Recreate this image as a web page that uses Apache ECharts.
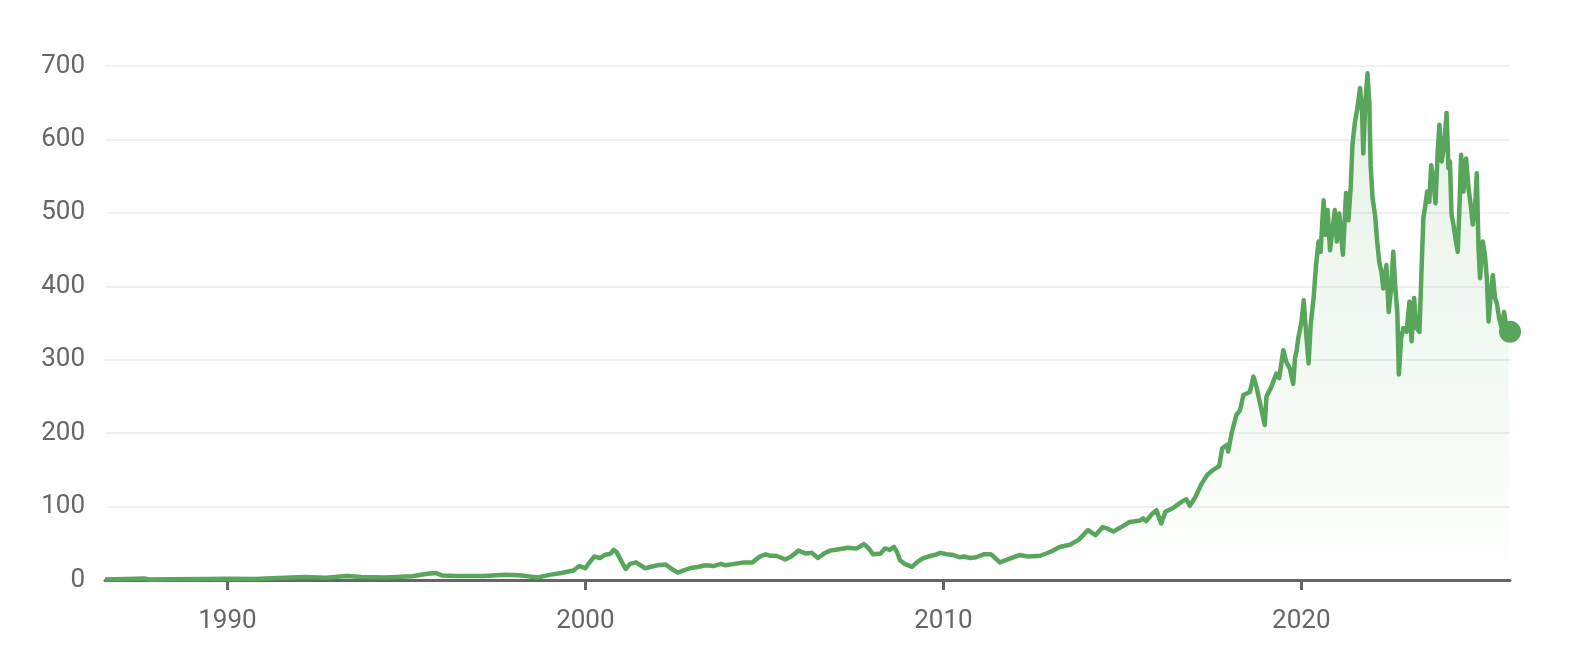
<!DOCTYPE html>
<html>
<head>
<meta charset="utf-8">
<script src="https://cdn.jsdelivr.net/npm/echarts@6/dist/echarts.min.js"></script>
<style>
html,body{margin:0;padding:0;background:#fff;}
#chart{width:1590px;height:660px;}
</style>
</head>
<body>
<div id="chart"></div>
<script>
// Dates of observations
const dates = [
'1986-08-01','1987-03-01','1987-09-01','1987-11-01','1988-06-01','1989-06-01','1990-01-01','1990-10-01',
'1991-06-01','1992-03-01','1992-10-01','1993-05-01','1993-10-01','1994-06-01','1995-03-01','1995-08-01',
'1995-11-01','1996-01-01','1996-06-01','1997-03-01','1997-10-01','1998-03-01','1998-09-01','1999-01-01',
'1999-05-01','1999-09-01','1999-11-01','2000-01-01','2000-02-01','2000-04-01','2000-06-01','2000-07-15',
'2000-09-15','2000-10-15','2000-11-15','2001-01-01','2001-02-15','2001-04-01','2001-06-01','2001-09-01',
'2001-11-01','2002-01-01','2002-04-01','2002-06-01','2002-08-01','2002-10-01','2002-12-01','2003-03-01',
'2003-05-15','2003-08-01','2003-10-15','2003-12-01','2004-03-01','2004-06-01','2004-09-01','2004-11-15',
'2005-01-15','2005-03-01','2005-05-01','2005-08-01','2005-10-01','2005-12-15','2006-03-01','2006-05-01',
'2006-07-01','2006-09-01','2006-11-01','2007-02-01','2007-05-01','2007-08-01','2007-10-15','2007-12-01',
'2008-01-15','2008-04-01','2008-05-15','2008-07-01','2008-08-15','2008-09-15','2008-10-15','2008-12-01',
'2009-02-15','2009-04-15','2009-06-01','2009-08-01','2009-10-01','2009-12-01','2010-02-01','2010-04-15',
'2010-06-15','2010-08-01','2010-10-01','2010-12-01','2011-02-15','2011-05-01','2011-08-01','2011-10-01',
'2011-11-15','2012-02-15','2012-05-15','2012-09-15','2012-12-31','2013-04-01','2013-07-15','2013-10-15',
'2014-01-15','2014-04-01','2014-06-15','2014-08-01','2014-10-01','2015-01-15','2015-03-15','2015-07-01',
'2015-08-01','2015-09-01','2015-10-30','2015-12-15','2016-02-01','2016-03-15','2016-05-01','2016-06-01',
'2016-08-01','2016-09-15','2016-10-15','2016-11-20','2017-01-15','2017-03-15','2017-05-15','2017-07-15',
'2017-09-15','2017-10-15','2017-12-01','2017-12-15','2018-01-20','2018-03-10','2018-04-15','2018-05-20',
'2018-07-25','2018-08-30','2018-10-01','2018-11-05','2018-12-24','2019-01-10','2019-03-01','2019-04-20',
'2019-05-20','2019-07-01','2019-08-01','2019-09-06','2019-10-10','2019-10-28','2019-11-15','2019-11-30',
'2020-01-03','2020-01-25','2020-02-15','2020-03-15','2020-04-05','2020-05-05','2020-05-30','2020-06-25',
'2020-07-15','2020-08-15','2020-09-05','2020-09-25','2020-10-20','2020-11-15','2020-12-08','2020-12-28',
'2021-01-22','2021-02-28','2021-04-01','2021-04-26','2021-05-20','2021-06-05','2021-07-01','2021-07-25',
'2021-08-22','2021-09-12','2021-09-24','2021-10-15','2021-11-06','2021-11-25','2021-12-08','2021-12-28',
'2022-01-22','2022-02-13','2022-03-06','2022-03-28','2022-04-16','2022-05-18','2022-06-10','2022-07-05',
'2022-07-27','2022-08-15','2022-09-06','2022-09-22','2022-10-15','2022-11-06','2022-12-10','2023-01-08',
'2023-01-30','2023-02-24','2023-03-20','2023-04-20','2023-05-12','2023-05-30','2023-06-20','2023-07-08',
'2023-07-30','2023-08-18','2023-09-10','2023-10-01','2023-10-23','2023-11-10','2023-12-03','2023-12-28',
'2024-01-22','2024-02-10','2024-02-25','2024-03-13','2024-04-01','2024-04-22','2024-05-15','2024-06-03',
'2024-06-18','2024-07-12','2024-08-08','2024-09-02','2024-09-24','2024-10-15','2024-11-07','2024-11-25',
'2024-12-13','2024-12-28','2025-01-25','2025-02-16','2025-03-08','2025-03-25','2025-04-16','2025-05-08',
'2025-05-30','2025-06-18','2025-07-12','2025-08-08','2025-08-30','2025-09-20','2025-10-12','2025-10-30'
];
// Price values
const prices = [
0.8,1.2,2.0,0.8,1.0,1.3,1.8,1.2,
2.8,4.0,3.0,5.5,4.0,3.5,5.0,8.5,
9.5,6.0,5.5,5.5,7.0,6.5,3.5,7.0,
9.5,13,19,16,22,32,30,34,
36,41,38,26,15,22,24,16,
18,20,21,15,10,13,16,18,
20,19,22,20,22,24,24,32,
35,33,33,28,32,40,36,37,
30,36,40,42,44,43,49,43,
35,36,43,41,45,38,27,22,
18,25,29,32,34,37,35,34,
31,32,30,31,35,35,24,27,
29.5,34,32,33,38.5,45,48,55,
68,61,72,70,66,74,79,81,
84,80,90,95,77,93,96,98,
104,108,110,101,113,130,143,150,
155,179,184,175,200,225,231,252,
256,277,263,241,211,250,263,281,
275,313,297,288,267,302,313,329,
352,381,343,295,347,384,429,461,
447,517,470,504,449,479,504,461,
499,443,527,490,538,592,624,642,
670,638,581,651,690,649,565,520,
497,461,433,420,397,429,365,397,
447,402,365,280,329,343,338,379,
325,384,343,338,425,493,511,529,
515,565,543,513,583,620,570,592,
636,561,570,497,484,465,447,515,
579,529,574,533,511,484,506,554,
452,411,461,443,411,352,388,415,
384,377,356,343,365,347,338,338
];
// X-axis tick labels (years)
const xTickYears = [1990, 2000, 2010, 2020];
// Y-axis range
const yMin = 0, yMax = 700, yStep = 100;

const toTime = d => Date.parse(d + 'T00:00:00Z');
const seriesData = dates.map((d, i) => [toTime(d), prices[i]]);
const lastPoint = seriesData[seriesData.length - 1];
const tickValues = xTickYears.map(y => Date.UTC(y, 0, 1));

const green = '#58a55c';
const chart = echarts.init(document.getElementById('chart'), null, {renderer: 'canvas'});
chart.setOption({
  animation: false,
  backgroundColor: '#ffffff',
  grid: {left: 105, right: 80, top: 66, bottom: 80, containLabel: false},
  xAxis: {
    type: 'value',
    min: toTime(dates[0]),
    max: toTime(dates[dates.length - 1]),
    axisLine: {show: true, onZero: false, lineStyle: {color: '#666666', width: 3}},
    axisTick: {show: true, customValues: tickValues, length: 10, lineStyle: {color: '#666666', width: 3}},
    axisLabel: {
      customValues: tickValues,
      formatter: v => String(new Date(v).getUTCFullYear()),
      color: '#666666', fontSize: 26, fontFamily: 'Roboto', margin: 28
    },
    splitLine: {show: false}
  },
  yAxis: {
    type: 'value',
    min: yMin, max: yMax, interval: yStep,
    axisLine: {show: false},
    axisTick: {show: false},
    axisLabel: {color: '#666666', fontSize: 26, fontFamily: 'Roboto', margin: 20},
    splitLine: {show: true, lineStyle: {color: '#f0f0f0', width: 2}}
  },
  series: [
    {
      type: 'line',
      data: seriesData,
      showSymbol: false,
      symbol: 'none',
      lineStyle: {color: green, width: 4.5, join: 'round'},
      areaStyle: {
        color: new echarts.graphic.LinearGradient(0, 0, 0, 1, [
          {offset: 0, color: 'rgba(88,165,92,0.22)'},
          {offset: 1, color: 'rgba(88,165,92,0.01)'}
        ])
      },
      z: 2
    },
    {
      type: 'scatter',
      data: [lastPoint],
      symbol: 'circle',
      symbolSize: 22,
      itemStyle: {color: green, opacity: 1},
      clip: false,
      z: 3
    }
  ]
});
</script>
</body>
</html>
